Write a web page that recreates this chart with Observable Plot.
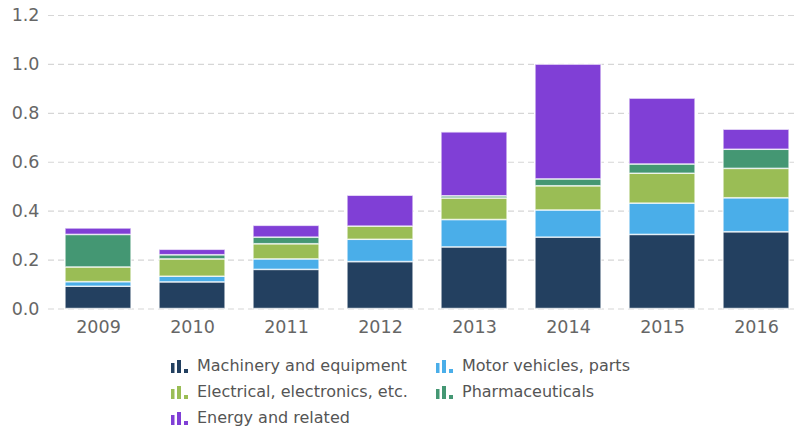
<!DOCTYPE html>
<html>
<head>
<meta charset="utf-8">
<script src="https://cdn.jsdelivr.net/npm/d3@7"></script>
<script src="https://cdn.jsdelivr.net/npm/@observablehq/plot@0.6"></script>
<style>
  html, body { margin: 0; padding: 0; background: #fff; }
  body { width: 794px; height: 430px; overflow: hidden; font-family: "DejaVu Sans", sans-serif; }
  #legend { display: grid; grid-template-columns: 265px auto; padding-left: 171px; margin-top: 15px; row-gap: 5px; }
  .item { display: flex; align-items: center; height: 21px; font-size: 16px; color: #555; }
  .item svg { margin-right: 7px; }
</style>
</head>
<body>
<div id="chart"></div>
<div id="legend"></div>
<script>
const years = ["2009", "2010", "2011", "2012", "2013", "2014", "2015", "2016"];
const seriesNames = ["Machinery and equipment", "Motor vehicles, parts", "Electrical, electronics, etc.", "Pharmaceuticals", "Energy and related"];
const colors = ["#234060", "#4aaee9", "#9abd55", "#449773", "#803fd6"];
const machinery  = [0.091, 0.109, 0.160, 0.192, 0.252, 0.292, 0.303, 0.314];
const motor      = [0.019, 0.023, 0.043, 0.091, 0.112, 0.111, 0.128, 0.139];
const electrical = [0.060, 0.071, 0.062, 0.054, 0.088, 0.099, 0.122, 0.120];
const pharma     = [0.133, 0.017, 0.027, 0.000, 0.009, 0.028, 0.038, 0.078];
const energy     = [0.026, 0.022, 0.048, 0.126, 0.261, 0.469, 0.269, 0.082];
const yTicks = [0, 0.2, 0.4, 0.6, 0.8, 1.0, 1.2];

const seriesValues = [machinery, motor, electrical, pharma, energy];
const data = [];
seriesNames.forEach((s, i) => years.forEach((y, j) => data.push({year: y, series: s, value: seriesValues[i][j]})));

const chart = Plot.plot({
  width: 794,
  height: 340,
  marginTop: 15,
  marginBottom: 31.5,
  marginLeft: 48,
  marginRight: 0,
  style: { fontFamily: "DejaVu Sans, sans-serif", fontSize: "17.5px", color: "#666", background: "#fff" },
  x: { domain: years, padding: 0.3, paddingOuter: 0.106, align: 0.75, label: null, tickSize: 0, tickPadding: 12 },
  y: { domain: [0, 1.2], ticks: yTicks, tickFormat: d3.format(".1f"), label: null, tickSize: 0, tickPadding: 9 },
  color: { domain: seriesNames, range: colors },
  marks: [
    Plot.ruleY(yTicks, { stroke: "#d6d6d6", strokeDasharray: "6,4", strokeWidth: 1.2 }),
    Plot.barY(data, Plot.stackY({ x: "year", y: "value", fill: "series", order: seriesNames, stroke: "#fff", strokeOpacity: 0.7, strokeWidth: 1.5 }))
  ]
});
chart.querySelectorAll("[aria-label='x-axis tick label'] text, [aria-label='y-axis tick label'] text").forEach(t => t.setAttribute("fill", "#666"));
document.getElementById("chart").appendChild(chart);

const legend = document.getElementById("legend");
seriesNames.forEach((s, i) => {
  const div = document.createElement("div");
  div.className = "item";
  div.innerHTML = `<svg width="19" height="14" viewBox="0 0 19 14"><rect x="0" y="4" width="3.5" height="10" fill="${colors[i]}"/><rect x="6" y="1" width="4" height="13" fill="${colors[i]}"/><rect x="13" y="10" width="4" height="4" fill="${colors[i]}"/></svg><span>${s}</span>`;
  legend.appendChild(div);
});
</script>
</body>
</html>
